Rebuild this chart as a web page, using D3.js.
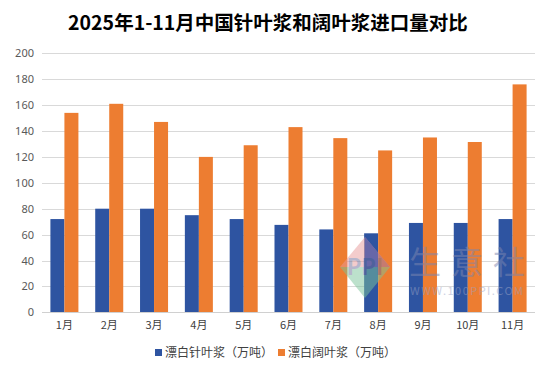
<!DOCTYPE html>
<html><head><meta charset="utf-8">
<script src="https://cdn.jsdelivr.net/npm/d3@7"></script>
<style>body{margin:0;background:#fff;}svg{display:block;font-family:"Microsoft YaHei","Noto Sans CJK SC",sans-serif;}</style>
</head><body><svg id="c" width="546" height="367"></svg>
<script>
const title = "2025年1-11月中国针叶浆和阔叶浆进口量对比";
const categories = ["1月","2月","3月","4月","5月","6月","7月","8月","9月","10月","11月"];
const seriesNames = ["漂白针叶浆（万吨）","漂白阔叶浆（万吨）"];
const softwood = [72,80,80,75,72,67.5,64,61,69,69,72];
const hardwood = [154,161,147,120,129,143,134.5,125,135,131.5,176];
const yTicks = [0,20,40,60,80,100,120,140,160,180,200];
const colors = ["#2E54A1","#ED7D31"];

const svg = d3.select("#c");
const m = {l:42, r:11};
const W = 546;
const x = d3.scaleBand().domain(categories).range([m.l, W-m.r]).paddingInner(0).paddingOuter(0);
const inner = d3.scaleBand().domain([0,1]).range([0, x.bandwidth()]).paddingInner(0).paddingOuter(0.6);
const y = d3.scaleLinear().domain([0,200]).range([312.3, 53.3]);

svg.append("text").attr("x", 268).attr("y", 30).attr("text-anchor","middle")
  .attr("font-size", 19.5).attr("font-weight","bold").attr("fill","#000").text(title);

const g = svg.append("g");
g.selectAll("line.grid").data(yTicks.slice(1)).join("line")
  .attr("x1", m.l).attr("x2", W-m.r).attr("y1", d=>Math.round(y(d))+0.5).attr("y2", d=>Math.round(y(d))+0.5)
  .attr("stroke","#d9d9d9").attr("stroke-width",1);

const yAxis = d3.axisLeft(y).tickValues(yTicks).tickSize(0).tickPadding(0);
svg.append("g").attr("transform",`translate(34,0)`).call(yAxis)
  .call(s=>s.select(".domain").remove())
  .selectAll("text").attr("font-size",11).attr("fill","#595959").attr("font-family","Microsoft YaHei, Noto Sans, sans-serif");

const data = [softwood, hardwood];
data.forEach((vals,si)=>{
  svg.append("g").selectAll("rect").data(vals).join("rect")
    .attr("x",(d,i)=>x(categories[i])+inner(si))
    .attr("width", inner.bandwidth())
    .attr("y", d=>y(d)).attr("height", d=>y(0)-y(d))
    .attr("fill", colors[si]);
});

svg.append("line").attr("x1",m.l).attr("x2",W-m.r).attr("y1",312.5).attr("y2",312.5).attr("stroke","#d0d0d0");

const xAxis = d3.axisBottom(x).tickSize(0).tickPadding(9);
svg.append("g").attr("transform",`translate(0,312)`).call(xAxis)
  .call(s=>s.select(".domain").remove())
  .selectAll("text").attr("font-size",11).attr("fill","#404040").attr("font-family","Microsoft YaHei, Noto Sans CJK SC, sans-serif");

// watermark
const wm = svg.append("g").attr("opacity",0.5);
wm.append("path").attr("d","M365,237 L390,267 L340,267 Z").attr("fill","#e89a9a");
wm.append("path").attr("d","M365,237 L390,267 L365,267 Z").attr("fill","#a07ab0");
wm.append("path").attr("d","M340,267 L390,267 L365,298 Z").attr("fill","#7cc49a");
wm.append("text").attr("x",365).attr("y",275).attr("text-anchor","middle").attr("font-size",22).attr("font-weight","bold").attr("fill","#70709a").text("PPI");
wm.append("text").attr("x",409).attr("y",274).attr("font-size",32).attr("fill","#7d86b0").attr("textLength",116).text("生意社");
wm.append("text").attr("x",410).attr("y",295).attr("font-size",11).attr("fill","#9aa2c4").attr("textLength",113).text("WWW.100PPI.COM");

const leg = svg.append("g").attr("transform","translate(0,353)");
const items = [{x:155},{x:278}];
seriesNames.forEach((n,i)=>{
  leg.append("rect").attr("x",items[i].x).attr("y",-4).attr("width",7).attr("height",7).attr("fill",colors[i]);
  leg.append("text").attr("x",items[i].x+10).attr("y",4).attr("font-size",12).attr("fill","#404040").text(n);
});
</script></body></html>
